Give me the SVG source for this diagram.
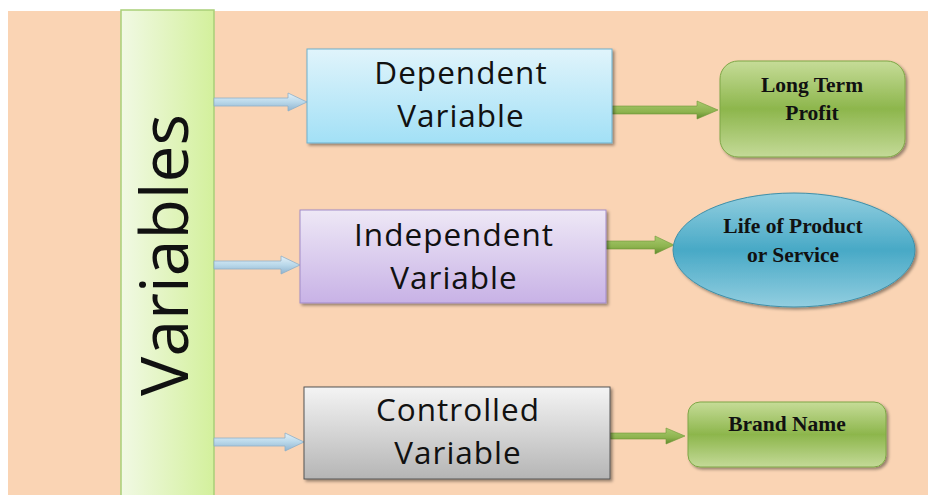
<svg xmlns="http://www.w3.org/2000/svg" width="928" height="495" viewBox="0 0 928 495">
  <defs>
    <linearGradient id="gBar" x1="0" y1="0" x2="1" y2="0">
      <stop offset="0" stop-color="#f1f9e4"/>
      <stop offset="1" stop-color="#d3f09c"/>
    </linearGradient>
    <linearGradient id="gBlue" x1="0" y1="0" x2="0" y2="1">
      <stop offset="0" stop-color="#e0f4fb"/>
      <stop offset="1" stop-color="#a2e0f6"/>
    </linearGradient>
    <linearGradient id="gPurple" x1="0" y1="0" x2="0" y2="1">
      <stop offset="0" stop-color="#eee8f6"/>
      <stop offset="1" stop-color="#c8b2e6"/>
    </linearGradient>
    <linearGradient id="gGray" x1="0" y1="0" x2="0" y2="1">
      <stop offset="0" stop-color="#f4f4f4"/>
      <stop offset="1" stop-color="#b5b5b5"/>
    </linearGradient>
    <linearGradient id="gGreen" x1="0" y1="0" x2="0" y2="1">
      <stop offset="0" stop-color="#c6dc98"/>
      <stop offset="0.5" stop-color="#8db64c"/>
      <stop offset="1" stop-color="#c4da98"/>
    </linearGradient>
    <linearGradient id="gTeal" x1="0" y1="0" x2="0" y2="1">
      <stop offset="0" stop-color="#93cfe0"/>
      <stop offset="0.5" stop-color="#48a9c6"/>
      <stop offset="1" stop-color="#92cee0"/>
    </linearGradient>
    <linearGradient id="gArrowBlue" x1="0" y1="0" x2="0" y2="1">
      <stop offset="0" stop-color="#e4f1f8"/>
      <stop offset="0.5" stop-color="#b9d8ea"/>
      <stop offset="1" stop-color="#8fb3cf"/>
    </linearGradient>
    <linearGradient id="gArrowGreen" x1="0" y1="0" x2="0" y2="1">
      <stop offset="0" stop-color="#a8c96e"/>
      <stop offset="0.6" stop-color="#8db34e"/>
      <stop offset="1" stop-color="#5f8a2c"/>
    </linearGradient>
    <filter id="shadow" x="-10%" y="-10%" width="125%" height="130%">
      <feDropShadow dx="2" dy="2" stdDeviation="1.5" flood-color="#000" flood-opacity="0.4"/>
    </filter>
  </defs>
  <style>
    .main { font-family: "Open Sans", "Liberation Sans", sans-serif; font-size: 31.5px; letter-spacing: 1px; fill: #111; text-anchor: middle; }
    .leaf { font-family: "Liberation Serif", "Times New Roman", serif; font-weight: bold; font-size: 21.5px; fill: #111; text-anchor: middle; }
    .blueArrow { fill: url(#gArrowBlue); stroke: #8fb0c8; stroke-width: 0.8; }
    .greenArrow { fill: url(#gArrowGreen); stroke: #6f9838; stroke-width: 0.6; }
  </style>

  <!-- page background -->
  <rect x="0" y="0" width="928" height="495" fill="#ffffff"/>
  <rect x="8" y="11" width="920" height="484" fill="#fad4b4"/>

  <!-- vertical title bar -->
  <g id="variables">
    <rect x="121" y="10" width="93" height="490" fill="url(#gBar)" stroke="#a9cf78" stroke-width="1.5"/>
    <text x="0" y="0" transform="translate(188,255) rotate(-90)" font-family="'Open Sans', 'Liberation Sans', sans-serif" font-size="66" fill="#111" text-anchor="middle">Variables</text>
  </g>

  <!-- connectors -->
  <g id="connectors">
    <path class="blueArrow" d="M214,98 H288 V93 L307,102 L288,111 V106 H214 Z"/>
    <path class="blueArrow" d="M214,261 H281 V256 L300,265 L281,274 V269 H214 Z"/>
    <path class="blueArrow" d="M214,438 H285 V433 L304,442 L285,451 V446 H214 Z"/>
    <path class="greenArrow" d="M612,106 H697 V101 L718,110 L697,119 V114 H612 Z"/>
    <path class="greenArrow" d="M606,241 H655 V236 L674,245 L655,254 V249 H606 Z"/>
    <path class="greenArrow" d="M610,433 H666 V428 L685,436 L666,444 V439 H610 Z"/>
  </g>

  <g id="dependent">
    <rect x="307" y="49" width="305" height="94" fill="url(#gBlue)" stroke="#6fb0cc" stroke-width="1" filter="url(#shadow)"/>
    <text class="main" x="461" y="84">Dependent</text>
    <text class="main" x="461" y="127">Variable</text>
  </g>

  <g id="independent">
    <rect x="300" y="210" width="306" height="93" fill="url(#gPurple)" stroke="#a28bc8" stroke-width="1" filter="url(#shadow)"/>
    <text class="main" x="454" y="246">Independent</text>
    <text class="main" x="454" y="289">Variable</text>
  </g>

  <g id="controlled">
    <rect x="304" y="387" width="306" height="92" fill="url(#gGray)" stroke="#555" stroke-width="1" filter="url(#shadow)"/>
    <text class="main" x="458" y="421">Controlled</text>
    <text class="main" x="458" y="464">Variable</text>
  </g>

  <g id="long-term-profit">
    <rect x="720" y="61" width="185" height="96" rx="18" fill="url(#gGreen)" stroke="#7ea646" stroke-width="1" filter="url(#shadow)"/>
    <text class="leaf" x="812" y="92">Long Term</text>
    <text class="leaf" x="812" y="120">Profit</text>
  </g>

  <g id="life-of-product">
    <ellipse cx="794" cy="250" rx="121" ry="57" fill="url(#gTeal)" stroke="#3f8fa8" stroke-width="1" filter="url(#shadow)"/>
    <text class="leaf" x="793" y="233">Life of Product</text>
    <text class="leaf" x="793" y="262">or Service</text>
  </g>

  <g id="brand-name">
    <rect x="688" y="402" width="198" height="65" rx="12" fill="url(#gGreen)" stroke="#7ea646" stroke-width="1" filter="url(#shadow)"/>
    <text class="leaf" x="787" y="431">Brand Name</text>
  </g>
</svg>
